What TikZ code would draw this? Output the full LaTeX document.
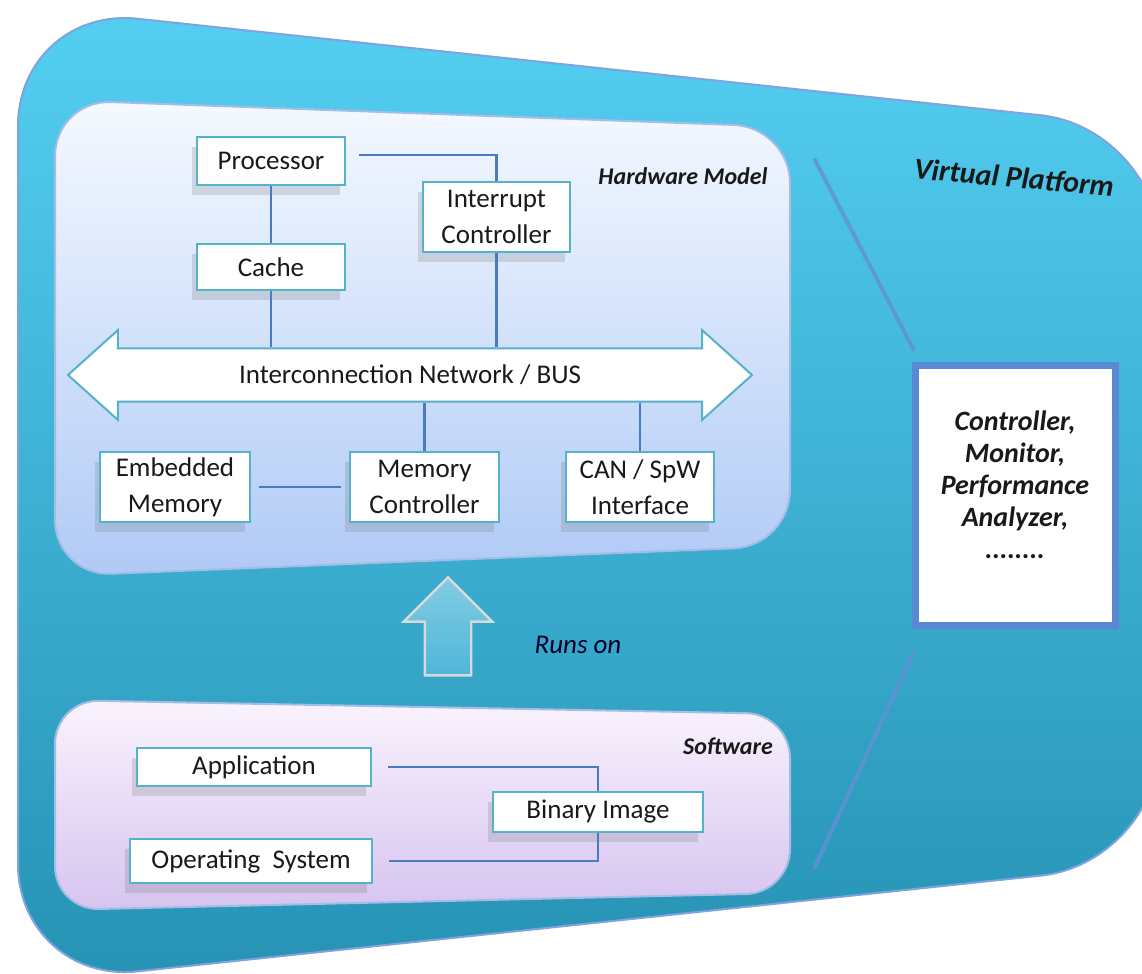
\documentclass[tikz,border=0pt]{standalone}
\usepackage{fontspec}
\setmainfont{Carlito}
\usetikzlibrary{positioning,shapes.arrows,shadows}
\definecolor{vpblue}{RGB}{84,207,242}
\definecolor{vpdeep}{RGB}{38,146,180}
\definecolor{vpedge}{RGB}{72,124,206}
\definecolor{hwtop}{RGB}{245,249,255}
\definecolor{hwbottom}{RGB}{176,202,246}
\definecolor{swtop}{RGB}{250,243,253}
\definecolor{swbottom}{RGB}{214,196,240}
\definecolor{boxedge}{RGB}{86,178,200}
\definecolor{wireblue}{RGB}{74,122,196}
\definecolor{upfill}{RGB}{78,182,216}

\begin{document}
\begin{tikzpicture}[x=0.5pt,y=-0.5pt,every node/.style={font=\fontsize{13.5}{18}\selectfont,align=center,text=black!90},
  hwbox/.style={draw=boxedge,line width=1pt,fill=white,inner sep=2pt,drop shadow={shadow xshift=-2.5pt,shadow yshift=-5pt,opacity=.2,fill=black!60}},
  wire/.style={draw=wireblue,line width=1.2pt},
  guideline/.style={draw=vpedge!85,line width=2pt,line cap=round,opacity=.8},
  panellabel/.style={font=\fontsize{12}{14}\selectfont\bfseries\itshape}]
\useasboundingbox (0,0) rectangle (1142,974);
\draw[vpedge!70,line width=1pt,top color=vpblue,bottom color=vpdeep,rounded corners=60pt] (18,6) -- (1160,128) -- (1160,863) -- (18,984) -- cycle;
\draw[draw=vpedge!50,line width=1pt,top color=hwtop,bottom color=hwbottom,rounded corners=28pt] (55,100) -- (790,127) -- (790,546) -- (55,576) -- cycle;
\draw[draw=vpedge!50,line width=1pt,top color=swtop,bottom color=swbottom,rounded corners=22pt] (55,700) -- (790,714) -- (790,893) -- (55,910) -- cycle;

\node[hwbox,minimum width=74pt,minimum height=24pt] (proc) at (271,161) {Processor};
\node[hwbox,minimum width=74pt,minimum height=23pt,below=28.5pt of proc] (cache) {Cache};
\node[hwbox,minimum width=73.5pt,minimum height=35pt] (intr) at (496.5,217) {Interrupt\\Controller};
\node[double arrow,draw=boxedge,line width=1pt,fill=white,minimum height=342pt,minimum width=45pt,double arrow head extend=8.25pt,double arrow tip angle=84,inner xsep=0pt,inner ysep=6.5pt] (bus) at (410,375) {Interconnection Network / BUS};
\node[hwbox,minimum width=75pt,minimum height=35pt] (emb) at (175,487) {Embedded\\Memory};
\node[hwbox,minimum width=74.5pt,minimum height=35pt,right=49pt of emb] (memc) {Memory\\Controller};
\node[hwbox,minimum width=74pt,minimum height=35pt,right=32.5pt of memc] (can) {CAN / SpW\\Interface};
\node[panellabel] (hwlabel) at (683,176) {Hardware Model};

\draw[wire] ([shift={(13,-6)}]proc.east) -| (intr.north);
\draw[wire] (proc) -- (cache);
\draw[wire] (cache.south) -- (cache.south |- bus.north);
\draw[wire] (intr.south) -- (intr.south |- bus.north);
\draw[wire] (memc.north |- bus.south) -- (memc.north);
\draw[wire] (can.north |- bus.south) -- (can.north);
\draw[wire,shorten <=4pt,shorten >=4pt] (emb) -- (memc);

\node[single arrow,shape border rotate=90,draw=white!70!gray,line width=1.2pt,top color=upfill!70!white,bottom color=upfill,minimum height=49pt,minimum width=43.5pt,single arrow head extend=10.5pt,inner sep=11pt] (runs) at (448,638) {};
\node[font=\fontsize{13.5}{16}\selectfont\itshape,text=black!85!blue] (runslabel) at (578,645) {Runs on};

\node[hwbox,minimum width=117pt,minimum height=19pt] (app) at (254,767) {Application};
\node[hwbox,minimum width=121pt,minimum height=22pt] (os) at (251,861) {Operating~~System};
\node[hwbox,minimum width=105pt,minimum height=20pt] (bin) at (598,812) {Binary Image};
\node[panellabel] (swlabel) at (728,746) {Software};
\draw[wire] ([xshift=8pt]app.east) -| (bin.north);
\draw[wire] (bin.south) |- ([xshift=8pt]os.east);

\node[font=\fontsize{15}{17}\selectfont\bfseries\itshape,rotate=-5] (vplabel) at (1014,177) {Virtual Platform};
\node[draw=vpedge!90,line width=3.5pt,fill=white,minimum width=100pt,minimum height=130pt,font=\fontsize{14}{16}\selectfont\bfseries\itshape] (tools) at (1015,495) {Controller,\\Monitor,\\Performance\\Analyzer,\\........\\[-6pt]};
\coordinate (vptop) at (815,160);
\coordinate (vpbottom) at (815,867);
\draw[guideline] ([shift={(2,-12)}]tools.north west) -- (vptop);
\draw[guideline] ([shift={(2,24)}]tools.south west) -- (vpbottom);
\end{tikzpicture}
\end{document}
